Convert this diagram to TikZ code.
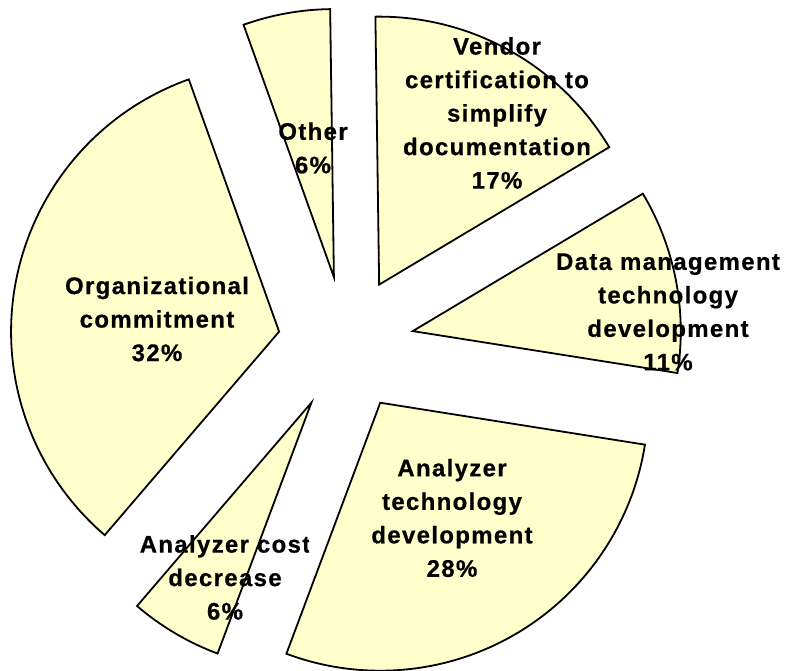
\documentclass[tikz,border=0pt]{standalone}
\usepackage{fontspec}
\setmainfont{Liberation Sans}[LetterSpace=5.5, BoldFeatures={FakeBold=0.6}]
\usetikzlibrary{calc}
\definecolor{slicefill}{RGB}{255,255,204}
\begin{document}
\begin{tikzpicture}[x=1pt,y=1pt,
  slice/.style={draw=black, line width=1.8pt, fill=slicefill, line join=miter},
  lbl/.style={font=\fontsize{24}{33.5}\selectfont\bfseries, align=center, text=black, inner sep=0pt}]
\useasboundingbox (0,0) rectangle (785,671);
\coordinate (C) at (346,327);
\foreach \a/\b in {30.85/90.8, -9/30.85, -110.5/-9, -130.6/-110.5, 109.7/229.4, 90.8/109.7} {
  \pgfmathsetmacro\m{(\a+\b)/2}
  \draw[slice] ($(C)+(\m:68)$) -- ++(\a:268) arc[start angle=\a, end angle=\b, radius=268] -- cycle;
}
\node[lbl] (org) at (157,352) {Organizational\\commitment\\32\%};
\node[lbl] (vendor) at (497,558) {Vendor\\certification to\\simplify\\documentation\\17\%};
\node[lbl] (data) at (668,359) {Data management\\technology\\development\\11\%};
\node[lbl] (tech) at (452,153) {Analyzer\\technology\\development\\28\%};
\begin{scope}
  \clip (0,0) rectangle (309,671);
  \node[lbl] (cost) at (225,93.5) {Analyzer cost\\decrease\\6\%};
\end{scope}
\node[lbl] (other) at (313,523) {Other\\6\%};
\end{tikzpicture}
\end{document}
